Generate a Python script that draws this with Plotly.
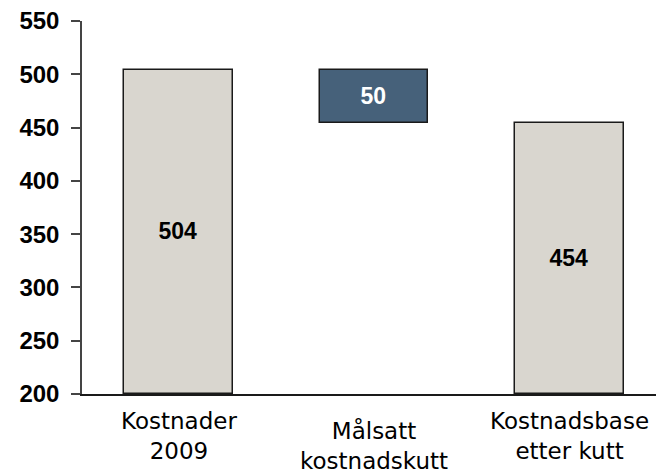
import plotly.graph_objects as go

categories = ["Kostnader<br>2009", "Målsatt<br>kostnadskutt", "Kostnadsbase<br>etter kutt"]
costs_2009 = 504
target_cut = 50
cost_after = costs_2009 - target_cut
axis_floor = 200
y_ticks = [200, 250, 300, 350, 400, 450, 500, 550]

tops = [costs_2009, costs_2009, cost_after]
bottoms = [axis_floor, cost_after, axis_floor]
labels = [str(costs_2009), str(target_cut), str(cost_after)]
x_pos = [0, 1, 2]

fills = ["#D9D6CF", "#46617A", "#D9D6CF"]
text_colors = ["#000000", "#FFFFFF", "#000000"]

fig = go.Figure()
fig.add_trace(go.Bar(
    x=x_pos,
    y=[t - b for t, b in zip(tops, bottoms)],
    base=bottoms,
    width=0.5575,
    marker=dict(color=fills, line=dict(color="#1a1a1a", width=1.5)),
    text=labels,
    textposition="inside",
    insidetextanchor="middle",
    textangle=0,
    textfont=dict(family="Liberation Sans, Arial", size=23, color=text_colors, weight="bold"),
    hoverinfo="skip",
))

# category labels as annotations (middle one sits half a line lower)
yshifts = [-12, -21, -12]
for i, (c, ys) in enumerate(zip(categories, yshifts)):
    fig.add_annotation(
        x=i, y=0, xref="x", yref="paper",
        text=c, showarrow=False, yanchor="top", yshift=ys,
        font=dict(family="DejaVu Sans, Verdana", size=23, color="#000000"),
        align="center",
    )

fig.update_layout(
    width=656, height=472,
    margin=dict(l=82, r=0, t=21, b=78),
    plot_bgcolor="white", paper_bgcolor="white",
    showlegend=False,
    bargap=0,
)
fig.update_xaxes(
    range=[-0.4936, 2.4425],
    showgrid=False, zeroline=False,
    showline=True, linecolor="#1a1a1a", linewidth=1.5,
    showticklabels=False, ticks="",
)
fig.update_yaxes(
    range=[axis_floor, 550],
    tickvals=y_ticks,
    showgrid=False, zeroline=False,
    showline=True, linecolor="#444444", linewidth=1.5,
    ticks="outside", ticklen=9, tickwidth=1.5, tickcolor="#444444",
    tickfont=dict(family="Liberation Sans, Arial", size=24, color="#000000", weight="bold"),
    ticklabelstandoff=7,
)

fig.write_html(
    "out.html",
    config={"displayModeBar": False},
    post_script="document.body.style.margin='0';document.body.style.overflow='hidden';",
)
